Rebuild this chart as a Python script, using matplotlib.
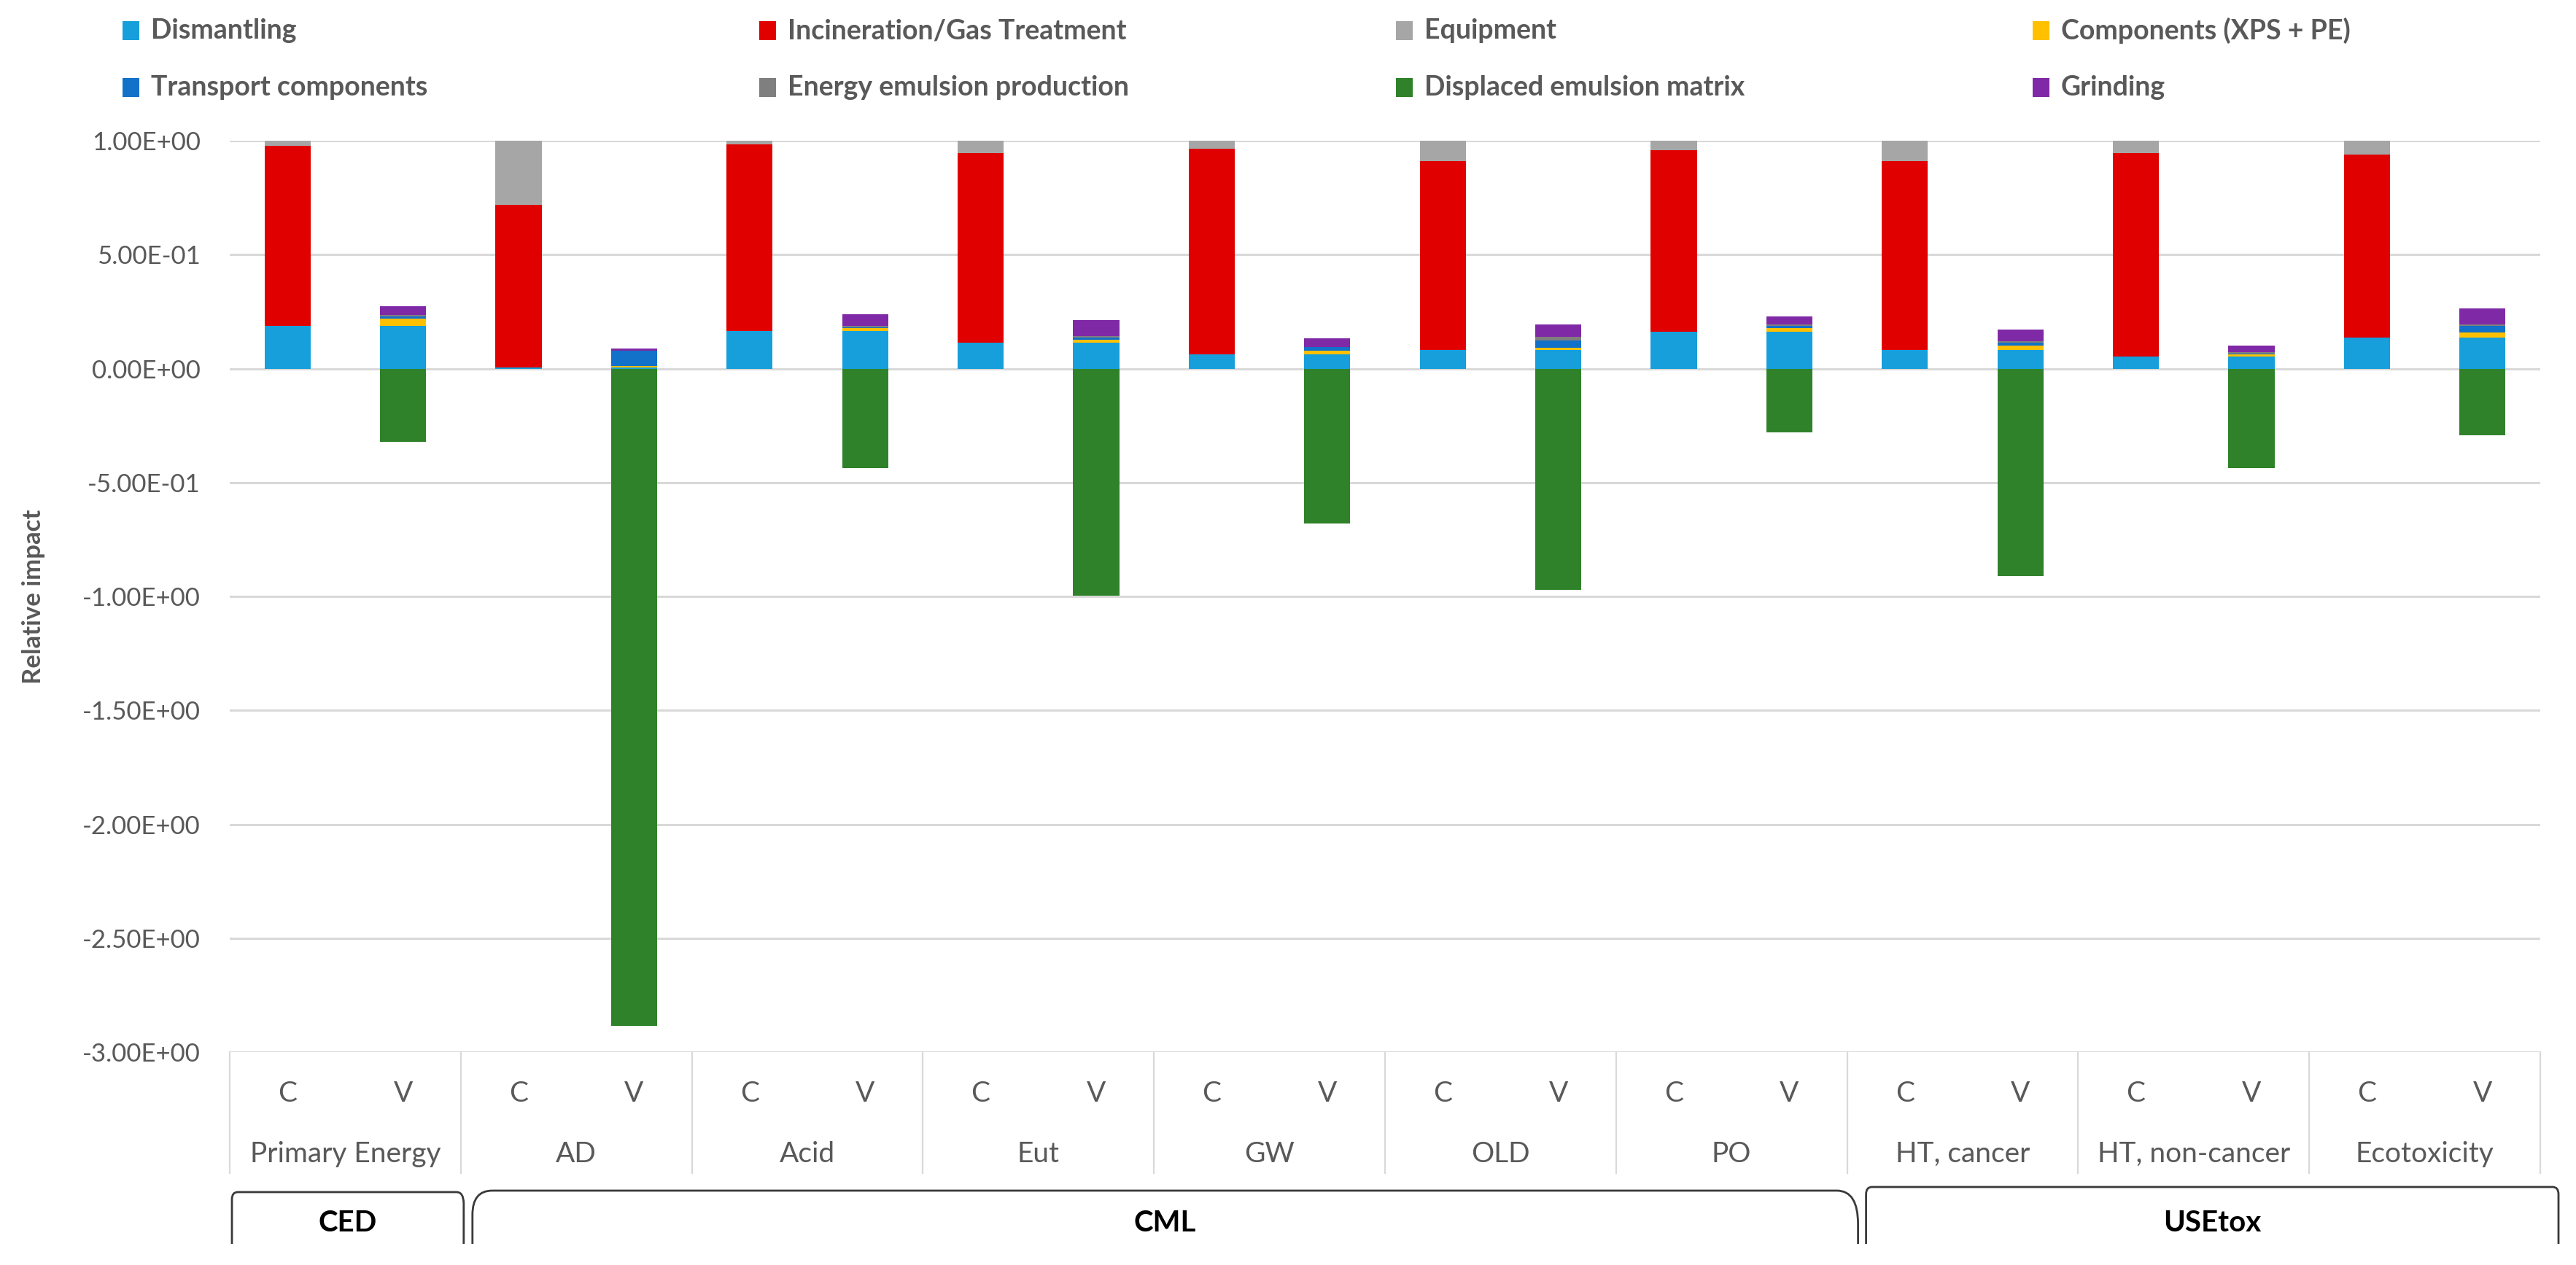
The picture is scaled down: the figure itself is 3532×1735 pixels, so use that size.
import numpy as np
import matplotlib
matplotlib.use("Agg")
import matplotlib.pyplot as plt
from matplotlib.path import Path
from matplotlib.patches import PathPatch, Rectangle

# ============================================
# Data (bars ordered C, V for each indicator)
# ============================================

groups = ["Primary Energy", "AD", "Acid", "Eut", "GW", "OLD", "PO",
          "HT, cancer", "HT, non-cancer", "Ecotoxicity"]
scenarios = ["C", "V"]
methods = ["CED", "CML", "USEtox"]
method_groups = [(0, 1), (1, 7), (7, 10)]   # group index range per method

dismantling  = [0.186, 0.186, 0.006, 0.004, 0.166, 0.166, 0.114, 0.113, 0.064, 0.064,
                0.082, 0.082, 0.161, 0.161, 0.082, 0.082, 0.052, 0.052, 0.136, 0.136]
incineration = [0.791, 0.0, 0.714, 0.0, 0.817, 0.0, 0.832, 0.0, 0.901, 0.0,
                0.827, 0.0, 0.796, 0.0, 0.827, 0.0, 0.894, 0.0, 0.804, 0.0]
equipment    = [0.023, 0.0, 0.280, 0.0, 0.017, 0.0, 0.054, 0.0, 0.035, 0.0,
                0.091, 0.0, 0.043, 0.0, 0.091, 0.0, 0.054, 0.0, 0.060, 0.0]
components   = [0.0, 0.032, 0.0, 0.007, 0.0, 0.011, 0.0, 0.014, 0.0, 0.016,
                0.0, 0.008, 0.0, 0.017, 0.0, 0.018, 0.0, 0.011, 0.0, 0.023]
transport    = [0.0, 0.011, 0.0, 0.067, 0.0, 0.005, 0.0, 0.008, 0.0, 0.013,
                0.0, 0.032, 0.0, 0.008, 0.0, 0.015, 0.0, 0.003, 0.0, 0.027]
energy       = [0.0, 0.005, 0.0, 0.002, 0.0, 0.004, 0.0, 0.009, 0.0, 0.002,
                0.0, 0.016, 0.0, 0.008, 0.0, 0.006, 0.0, 0.005, 0.0, 0.009]
displaced    = [0.0, -0.320, 0.0, -2.886, 0.0, -0.436, 0.0, -0.996, 0.0, -0.680,
                0.0, -0.970, 0.0, -0.280, 0.0, -0.910, 0.0, -0.436, 0.0, -0.294]
grinding     = [0.0, 0.040, 0.0, 0.007, 0.0, 0.051, 0.0, 0.069, 0.0, 0.039,
                0.0, 0.057, 0.0, 0.034, 0.0, 0.050, 0.0, 0.030, 0.0, 0.069]

# legend order (as in the reference)
series_names = ["Dismantling", "Incineration/Gas Treatment", "Equipment", "Components (XPS + PE)",
                "Transport components", "Energy emulsion production", "Displaced emulsion matrix", "Grinding"]
series_vals = [dismantling, incineration, equipment, components,
               transport, energy, displaced, grinding]
series_cols = ["#169FDB", "#E00000", "#A6A6A6", "#FFC000",
               "#1271C9", "#7F7F7F", "#2F8229", "#8029A6"]

yticks = [1.0, 0.5, 0.0, -0.5, -1.0, -1.5, -2.0, -2.5, -3.0]

# ============================================
# Layout
# ============================================

W, H, DPI = 3532, 1735, 100
FONT = "Lato"
GREY_TXT = "#595959"
GRID = "#D9D9D9"

AX_L, AX_R, AX_T, AX_B = 315, 3483, 193, 1443   # pixels from top-left

plt.rcParams["font.family"] = [FONT, "DejaVu Sans"]

fig = plt.figure(figsize=(W / DPI, H / DPI), dpi=DPI)
ax = fig.add_axes([AX_L / W, 1 - AX_B / H, (AX_R - AX_L) / W, (AX_B - AX_T) / H])

# overlay in pixel coordinates for legend, category labels and brackets
ov = fig.add_axes([0, 0, 1, 1], zorder=-1)
ov.set_xlim(0, W)
ov.set_ylim(H, 0)
ov.axis("off")

n_bars = len(groups) * len(scenarios)
x = np.arange(n_bars)
BAR_W = 0.4

pos_bottom = np.zeros(n_bars)
neg_bottom = np.zeros(n_bars)
for name, vals, col in zip(series_names, series_vals, series_cols):
    v = np.array(vals)
    base = np.where(v >= 0, pos_bottom, neg_bottom)
    ax.bar(x, v, width=BAR_W, bottom=base, color=col, linewidth=0, zorder=3)
    pos_bottom += np.clip(v, 0, None)
    neg_bottom += np.clip(v, None, 0)

ax.set_xlim(-0.5, n_bars - 0.5)
ax.set_ylim(-3.0, 1.0)
ax.set_yticks(yticks)
ax.set_yticklabels([f"{t:.2E}" for t in yticks])
ax.set_xticks([])
ax.tick_params(axis="y", length=0, pad=29, labelsize=25, labelcolor=GREY_TXT)
ax.yaxis.grid(True, color=GRID, linewidth=2.2, zorder=0)
ax.set_axisbelow(True)
for s in ax.spines.values():
    s.set_visible(False)


def px(xd):
    return ax.transData.transform((xd, 0))[0]


# y label
ov.text(46, (AX_T + AX_B) / 2, "Relative impact", rotation=90, ha="center", va="center",
        fontsize=25, color=GREY_TXT, fontweight="bold")

# category axis: separators, C/V and indicator labels
SEP_BOTTOM = 1609
for g in range(len(groups) + 1):
    xs = px(2 * g - 0.5)
    ov.plot([xs, xs], [AX_B, SEP_BOTTOM], color=GRID, linewidth=1.6)
for i in range(n_bars):
    ov.text(px(i), 1500, scenarios[i % 2], ha="center", va="center",
            fontsize=28, color=GREY_TXT)
for g, lab in enumerate(groups):
    ov.text(px(2 * g + 0.5), 1583, lab, ha="center", va="center",
            fontsize=28, color=GREY_TXT)


# method brackets
def bracket(x0, x1, ytop, ybot, rl, rr):
    verts = [(x0, ybot), (x0, ytop + rl[1]), (x0, ytop), (x0 + rl[0], ytop),
             (x1 - rr[0], ytop), (x1, ytop), (x1, ytop + rr[1]), (x1, ybot)]
    codes = [Path.MOVETO, Path.LINETO, Path.CURVE3, Path.CURVE3,
             Path.LINETO, Path.CURVE3, Path.CURVE3, Path.LINETO]
    ov.add_patch(PathPatch(Path(verts, codes), facecolor="none",
                           edgecolor="#3A3A3A", linewidth=2.0))


bracket_style = [  # (left pad, right pad, top, left corner, right corner)
    (3, 4, 1635, (8, 10), (10, 16)),
    (16, 15, 1633, (27, 33), (29, 46)),
    (26, 25, 1628, (8, 10), (8, 10)),
]
for name, (g0, g1), (pl, pr, ytop, rl, rr) in zip(methods, method_groups, bracket_style):
    x0 = px(2 * g0 - 0.5) + pl
    x1 = px(2 * g1 - 0.5) + pr
    bracket(x0, x1, ytop, 1706, rl, rr)
    ov.text((x0 + x1) / 2, 1677, name, ha="center", va="center",
            fontsize=29, fontweight="bold", color="black")

# legend: 2 rows x 4 columns
LEG_X0, LEG_DX = 168, 873
LEG_Y = [42, 120]
for k, (name, col) in enumerate(zip(series_names, series_cols)):
    r, c = divmod(k, 4)
    lx = LEG_X0 + c * LEG_DX
    ly = LEG_Y[r]
    ov.add_patch(Rectangle((lx, ly - 13), 23, 26, facecolor=col, edgecolor="none"))
    ov.text(lx + 39, ly, name, ha="left", va="center", fontsize=27,
            color=GREY_TXT, fontweight="bold")

fig.savefig("out.png", dpi=DPI)
